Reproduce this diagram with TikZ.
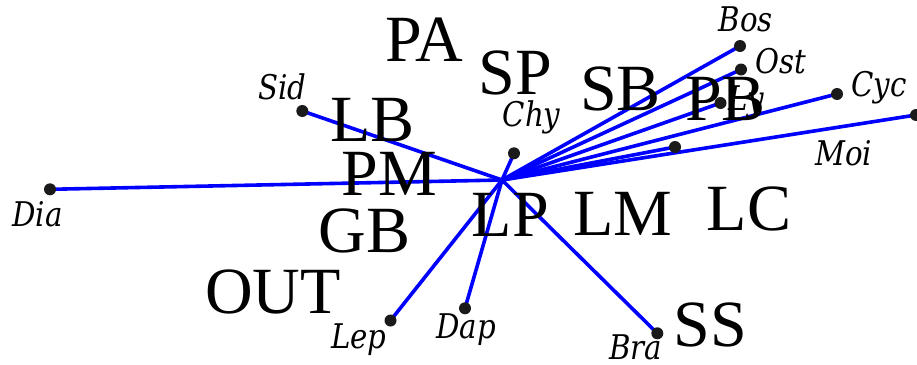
\documentclass[tikz,border=0pt]{standalone}
\usepackage{fontspec}
\setmainfont{Liberation Serif}
\newfontfamily\spfont[FakeStretch=0.86]{DejaVu Serif}
\definecolor{linkc}{RGB}{0,0,255}
\definecolor{dotc}{RGB}{26,26,26}
\begin{document}
\begin{tikzpicture}[x=1pt,y=-1pt,
  link/.style={draw=linkc, line width=3.6pt},
  pt/.style={circle, fill=dotc, inner sep=0pt, minimum size=12pt},
  sp/.style={anchor=base west, inner sep=0pt, font=\spfont\itshape\fontsize{34}{34}\selectfont},
  grp/.style={anchor=base west, inner sep=0pt, font=\fontsize{66}{66}\selectfont}]
\useasboundingbox (0,0) rectangle (917,364);
\coordinate (hub) at (502,180);
\coordinate (cDia) at (50,189.3);
\coordinate (cSid) at (302.3,111);
\coordinate (cChy) at (514,153.3);
\coordinate (cBos) at (740,46);
\coordinate (cOst) at (741,69.5);
\coordinate (cLy) at (720.5,103);
\coordinate (cCyc) at (837,94);
\coordinate (cEdge) at (916,115);
\coordinate (cMoi) at (675,147);
\coordinate (cLep) at (390.5,320.5);
\coordinate (cDap) at (465,308.3);
\coordinate (cBra) at (657.3,333.3);
\foreach \p in {Dia,Sid,Chy,Bos,Ost,Ly,Cyc,Edge,Moi,Lep,Dap,Bra}{
  \draw[link] (hub) -- (c\p);
}
\foreach \p in {Dia,Sid,Chy,Bos,Ost,Ly,Cyc,Edge,Moi,Lep,Dap,Bra}{
  \node[pt] (d\p) at (c\p) {};
}
% species labels
\node[sp] (tDia) at (12,226.7) {Dia};
\node[sp] (tSid) at (258,99.3) {Sid};
\node[sp] (tChy) at (502.5,126.7) {Chy};
\node[sp] (tBos) at (718.5,31.7) {Bos};
\node[sp] (tOst) at (755,73.3) {Ost};
\node[sp] (tCyc) at (851,96.7) {Cyc};
\node[sp] (tMoi) at (815,165) {Moi};
\node[sp] (tLep) at (331,348.3) {Lep};
\node[sp] (tDap) at (436,338.3) {Dap};
\node[sp] (tBra) at (609,359) {Bra};
\node[sp] (tLy) at (728,110) {Ly};
% group labels
\node[grp] (PA) at (385,61.7) {PA};
\node[grp] (SP) at (478.3,94.3) {SP};
\node[grp] (SB) at (580,110) {SB};
\node[grp] (PB) at (685,120) {PB};
\node[grp] (LB) at (330,141.7) {LB};
\node[grp] (PM) at (341.7,195) {PM};
\node[grp] (GB) at (318.3,252.7) {GB};
\node[grp] (OUT) at (205,313.3) {OUT};
\node[grp] (LP) at (471.7,236.7) {LP};
\node[grp] (LM) at (573.3,235) {LM};
\node[grp] (LC) at (706.7,230) {LC};
\node[grp] (SS) at (673.3,346.7) {SS};
\end{tikzpicture}
\end{document}
